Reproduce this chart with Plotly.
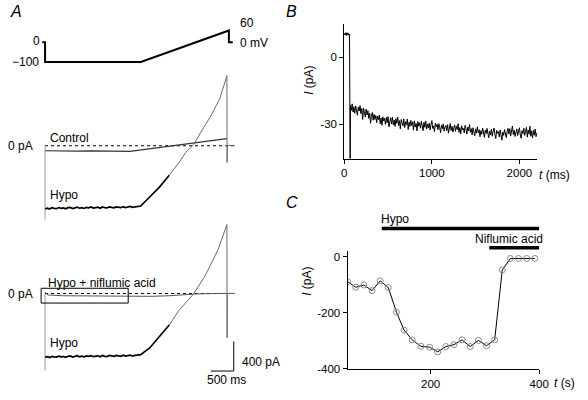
import plotly.graph_objects as go

W, H = 588, 400

# ---------------- Panel A data (time in ms, voltage in mV, current in pA) ----------------
volt_t = [-60, 0, 0, 2085, 4000, 4000, 4085]
volt_v = [0, 0, -100, -100, 60, 0, 0]

zero_t = [0, 4128]
zero_i = [0, 0]

trans_t = [0, 0]
trans_upper_i = [0, -1000]
trans_lower_i = [0, -1040]

ctrl_t = [0, 150, 400, 700, 1000, 1300, 1600, 1851, 3957]
ctrl_i = [-67, -70, -68, -72, -69, -73, -71, -75, 97]

hypo1_t = [0, 50, 100, 150, 200, 250, 300, 350, 400, 450, 500, 550, 600, 650, 700, 750, 800,
           850, 900, 950, 1000, 1050, 1100, 1150, 1200, 1250, 1300, 1350, 1400, 1450, 1500,
           1550, 1600, 1650, 1700, 1750, 1800, 1850, 1900, 1950, 2000, 2080, 2277, 2489, 2702]
hypo1_i = [-852, -845, -857, -839, -848, -851, -836, -846, -842, -853, -838, -834, -849, -841,
           -830, -845, -837, -848, -833, -839, -829, -844, -836, -831, -847, -828, -838, -842,
           -826, -835, -840, -827, -833, -838, -824, -836, -829, -822, -834, -827, -820,
           -815, -693, -560, -400]
hypo1_rise_t = [2702, 2915, 3057, 3234, 3404, 3617, 3802, 3957, 3961, 3966, 4128]
hypo1_rise_i = [-400, -227, -93, 17, 200, 413, 640, 947, -227, 5, 5]

nfa_t = [0, 25, 60, 400, 1200, 2300, 2700, 3000, 3300, 3700, 4128]
nfa_i = [20, 5, -20, -30, -35, -38, -30, -15, -5, 0, 2]

hypo2_t = [0, 50, 100, 150, 200, 250, 300, 350, 400, 450, 500, 550, 600, 650, 700, 750, 800,
           850, 900, 950, 1000, 1050, 1100, 1150, 1200, 1250, 1300, 1350, 1400, 1450, 1500,
           1550, 1600, 1650, 1700, 1750, 1800, 1850, 1900, 1950, 2000, 2080, 2277, 2489, 2702]
hypo2_i = [-862, -855, -867, -850, -858, -861, -847, -856, -853, -864, -849, -845, -859, -852,
           -842, -857, -848, -858, -844, -851, -840, -855, -847, -843, -857, -839, -850, -853,
           -837, -846, -851, -838, -844, -849, -835, -847, -840, -834, -845, -838, -832,
           -827, -737, -582, -427]
hypo2_rise_t = [2702, 2915, 3234, 3483, 3766, 3957, 3961, 3966, 4128]
hypo2_rise_i = [-427, -227, -4, 240, 596, 933, -600, 0, 0]

rect_t = [-85, 1809, 1809, -85, -85]
rect_i = [71, 71, -129, -129, 71]

scale_t = [3606, 4106, 4106]
scale_i = [-1049, -1049, -649]

# ---------------- Panel B data ----------------
b_pre_t = [0, 5, 10, 15, 20, 25, 30, 35, 40, 45, 50, 55, 60]
b_pre_i = [10.8, 9.9, 10.6, 10.1, 11.0, 9.7, 10.5, 10.2, 10.9, 9.8, 10.4, 10.0, 10.3]
b_trans_t = [62, 68]
b_trans_i = [-60, -60]
b_post_start = 70
b_post_dt = 10
b_post_i = [
    -21.5, -23.8, -20.9, -24.6, -22.2, -25.1, -21.8, -23.5, -26.0, -22.4,
    -24.1, -21.7, -25.3, -23.0, -27.9, -22.8, -24.6, -26.8, -23.2, -25.9,
    -24.0, -27.4, -25.1, -29.6, -26.3, -24.8, -28.2, -25.6, -27.9, -26.1,
    -29.3, -26.4, -28.0, -25.9, -29.8, -27.2, -30.5, -26.7, -28.6, -27.4,
    -30.1, -27.0, -29.4, -26.6, -31.2, -28.3, -27.1, -29.9, -26.9, -30.4,
    -28.2, -31.0, -27.5, -29.6, -26.8, -30.7, -28.4, -32.1, -27.9, -29.3,
    -30.8, -27.6, -31.5, -28.9, -30.2, -27.7, -32.4, -29.1, -31.0, -28.3,
    -30.6, -29.0, -32.7, -28.5, -31.3, -29.7, -33.0, -28.8, -30.9, -29.4,
    -31.8, -28.7, -30.5, -32.9, -29.2, -31.4, -28.6, -32.2, -30.0, -31.7,
    -29.5, -32.6, -30.3, -28.4, -31.9, -30.8, -33.4, -29.6, -31.2, -30.1,
    -32.5, -29.8, -31.6, -33.8, -30.4, -32.0, -29.9, -33.1, -31.3, -30.6,
    -32.9, -30.2, -34.0, -31.1, -29.7, -32.8, -30.9, -33.5, -31.8, -30.3,
    -33.2, -31.0, -32.4, -29.8, -33.7, -31.5, -34.3, -30.7, -32.6, -31.9,
    -33.9, -30.5, -32.2, -34.4, -31.3, -33.0, -30.1, -33.6, -32.0, -34.8,
    -31.6, -33.3, -35.2, -32.1, -34.0, -31.2, -33.8, -32.5, -35.6, -32.9,
    -34.5, -31.8, -33.4, -35.9, -32.7, -34.2, -31.9, -33.6, -36.1, -33.0,
    -34.8, -32.3, -35.4, -33.1, -31.7, -34.6, -36.4, -32.8, -34.1, -33.3,
    -35.7, -32.6, -34.9, -37.2, -33.5, -35.0, -32.4, -34.7, -36.0, -33.2,
    -31.9, -34.4, -32.0, -35.3, -33.1, -30.8, -34.6, -32.7, -35.5, -33.4,
    -32.1, -35.1, -33.7, -31.6, -34.8, -36.3, -32.9, -34.2, -31.8, -35.0,
    -33.3, -31.4, -35.8, -32.6, -34.5, -30.9, -35.4, -33.0, -36.2, -32.8,
    -34.9, -32.2, -35.6, -33.9,
]
b_xticks = [0, 1000, 2000]
b_yticks = [0, -30]
b_yticklabels = ["0", "-30"]

# ---------------- Panel C data ----------------
c_t = [47, 62, 77, 92, 107, 122, 137, 151, 166, 182, 198, 213, 228, 243, 258, 273,
       288, 303, 318, 332, 347, 362, 377, 392]
c_i = [-89, -109, -101, -121, -86, -110, -198, -262, -297, -320, -323, -340, -321, -314,
       -297, -321, -299, -318, -297, -47, -6, -6, -6, -6]
c_xticks = [200, 400]
c_yticks = [0, -200, -400]
c_yticklabels = ["0", "-200", "-400"]
hypo_bar = [110, 400]
nfa_bar = [308, 400]

# ---------------- build ----------------
b_t = b_pre_t + b_trans_t + [b_post_start + k * b_post_dt for k in range(len(b_post_i))]
b_i = b_pre_i + b_trans_i + b_post_i

FONT = "Liberation Sans, Arial, sans-serif"
fig = go.Figure()

def line(x, y, xa, ya, color="black", width=1, dash="solid"):
    fig.add_trace(go.Scatter(x=x, y=y, xaxis=xa, yaxis=ya, mode="lines",
                             line=dict(color=color, width=width, dash=dash),
                             hoverinfo="skip", showlegend=False))

# Panel A
line(volt_t, volt_v, "x", "y", width=2)
line(zero_t, zero_i, "x", "y2", width=1, dash="dot")
line(trans_t, trans_upper_i, "x", "y2", color="#9a9a9a", width=1)
line(ctrl_t, ctrl_i, "x", "y2", color="#333333", width=1.2)
line(hypo1_rise_t, hypo1_rise_i, "x", "y2", color="#6a6a6a", width=1)
line(hypo1_t, hypo1_i, "x", "y2", color="black", width=1.7)

line(zero_t, zero_i, "x", "y3", width=1, dash="dot")
line(trans_t, trans_lower_i, "x", "y3", color="#9a9a9a", width=1)
line(nfa_t, nfa_i, "x", "y3", color="#555555", width=1)
line(hypo2_rise_t, hypo2_rise_i, "x", "y3", color="#6a6a6a", width=1)
line(hypo2_t, hypo2_i, "x", "y3", color="black", width=1.7)
line(rect_t, rect_i, "x", "y3", color="black", width=1)
line(scale_t, scale_i, "x", "y3", color="black", width=1)

# Panel B
line(b_t, b_i, "x2", "y4", color="black", width=1)

# Panel C
fig.add_trace(go.Scatter(x=c_t, y=c_i, xaxis="x3", yaxis="y5", mode="lines+markers",
                         line=dict(color="black", width=1),
                         marker=dict(symbol="circle-open", size=6, color="#8a8a8a",
                                     line=dict(width=1, color="#8a8a8a")),
                         hoverinfo="skip", showlegend=False))

# pixel -> axis helpers for layout
A_SCALE_T = 0.047   # px per ms
A_T0_PX = 43
def a_range(px0, px1):
    return [(px0 - A_T0_PX) / A_SCALE_T, (px1 - A_T0_PX) / A_SCALE_T]

def v_range(zero_px, px_per_unit):
    return [(zero_px - H) / px_per_unit, zero_px / px_per_unit]

hidden = dict(visible=False, showgrid=False, zeroline=False, fixedrange=True)

axis_common = dict(showline=True, linecolor="black", linewidth=1, ticks="outside",
                   ticklen=4, tickwidth=1, tickcolor="black", showgrid=False,
                   zeroline=False, tickfont=dict(family=FONT, size=11.5, color="black"),
                   fixedrange=True)

fig.update_layout(
    width=W, height=H, margin=dict(l=0, r=0, t=0, b=0),
    paper_bgcolor="white", plot_bgcolor="rgba(0,0,0,0)",
    font=dict(family=FONT, size=12, color="black"),
    xaxis=dict(domain=[0, 1], range=a_range(0, W), **hidden),
    yaxis=dict(domain=[0, 1], range=v_range(43, 0.2), **hidden),
    yaxis2=dict(overlaying="y", anchor="x", range=v_range(148, 0.075), **hidden),
    yaxis3=dict(overlaying="y", anchor="x", range=v_range(298, 0.075), **hidden),
    xaxis2=dict(domain=[349 / W, 546 / W], range=[0, 2200], anchor="y4",
                tickvals=b_xticks, **axis_common),
    yaxis4=dict(domain=[1 - 161 / H, 1 - 24 / H], range=[-45.4, 15], anchor="x2",
                tickvals=b_yticks, ticktext=b_yticklabels, **axis_common),
    xaxis3=dict(domain=[352.3 / W, 548.3 / W], range=[46.8, 400], anchor="y5",
                tickvals=c_xticks, **axis_common),
    yaxis5=dict(domain=[1 - 374.5 / H, 1 - 255 / H], range=[-400.7, 20], anchor="x3",
                tickvals=c_yticks, ticktext=c_yticklabels, **axis_common),
)

fig.add_shape(type="line", xref="x3", yref="paper", x0=hypo_bar[0], x1=hypo_bar[1],
              y0=1 - 232 / H, y1=1 - 232 / H, line=dict(color="black", width=3.5))
fig.add_shape(type="line", xref="x3", yref="paper", x0=nfa_bar[0], x1=nfa_bar[1],
              y0=1 - 251.5 / H, y1=1 - 251.5 / H, line=dict(color="black", width=3.5))

PAD = 2
def ann(text, px, py, xanchor="left", size=12, angle=0):
    if xanchor == "left":
        px -= PAD
    elif xanchor == "right":
        px += PAD
    fig.add_annotation(text=text, x=px / W, y=1 - py / H, xref="paper", yref="paper",
                       xanchor=xanchor, yanchor="middle", showarrow=False, textangle=angle,
                       font=dict(family=FONT, size=size, color="black"))

ann("<i>A</i>", 7, 12, size=16)
ann("<i>B</i>", 289, 12, size=16)
ann("<i>C</i>", 289, 206, size=16)

ann("0", 38, 42, xanchor="right")
ann("\u2212100", 37, 63, xanchor="right")
ann("60", 242, 23)
ann("0 mV", 242, 44)

ann("0 pA", 31, 148, xanchor="right")
ann("Control", 48, 140)
ann("Hypo", 48, 198)
ann("0 pA", 31, 298, xanchor="right")
ann("Hypo + niflumic acid", 46, 287)
ann("Hypo", 48, 348)
ann("400 pA", 244, 368)
ann("500 ms", 229, 386, xanchor="center")

ann("<i>I</i> (pA)", 313, 82, xanchor="center", angle=-90)
ann("<i>t</i> (ms)", 564, 178, xanchor="center")
ann("Hypo", 387, 222)
ann("Niflumic acid", 552, 243, xanchor="right")
ann("<i>I</i> (pA)", 311, 286, xanchor="center", angle=-90)
ann("<i>t</i> (s)", 574, 389, xanchor="center")

fig.write_html("out.html", config={"displayModeBar": False},
               post_script="document.body.style.margin='0';")
